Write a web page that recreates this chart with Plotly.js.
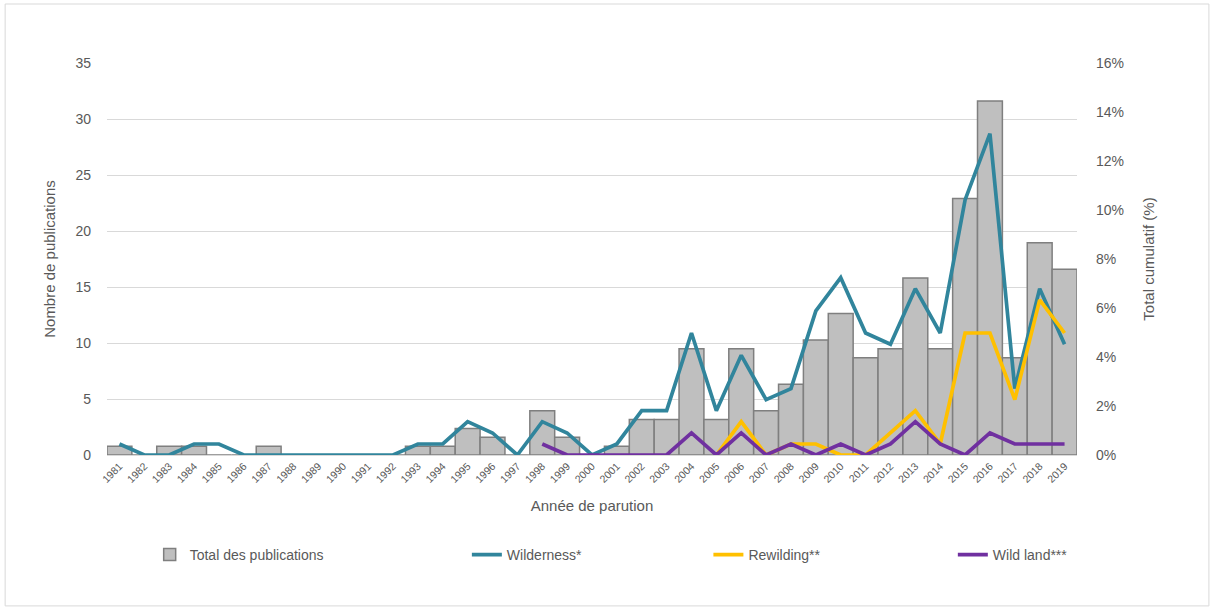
<!DOCTYPE html>
<html>
<head>
<meta charset="utf-8">
<script src="https://cdn.plot.ly/plotly-3.0.1.min.js"></script>
<style>
html,body{margin:0;padding:0;background:#fff;}
#chart{width:1214px;height:612px;}
</style>
</head>
<body>
<div id="chart"></div>
<script>
var years = ["1981","1982","1983","1984","1985","1986","1987","1988","1989","1990","1991","1992","1993","1994","1995","1996","1997","1998","1999","2000","2001","2002","2003","2004","2005","2006","2007","2008","2009","2010","2011","2012","2013","2014","2015","2016","2017","2018","2019"];

var totalPublications = [0.79,0,0.79,0.79,0,0,0.79,0,0,0,0,0,0.79,0.79,2.37,1.58,0,3.95,1.58,0,0.79,3.16,3.16,9.48,3.16,9.48,3.95,6.32,10.27,12.64,8.69,9.48,15.8,9.48,22.91,31.6,8.69,18.96,16.59];

var wilderness = [0.45,0,0,0.45,0.45,0,0,0,0,0,0,0,0.45,0.45,1.36,0.90,0,1.36,0.90,0,0.45,1.81,1.81,4.98,1.81,4.07,2.26,2.71,5.88,7.24,4.98,4.52,6.79,4.98,10.41,13.12,2.71,6.79,4.52];

var rewilding = [null,null,null,null,null,null,null,null,null,null,null,null,null,null,null,null,null,null,null,null,null,null,null,null,0,1.36,0,0.45,0.45,0,0,0.90,1.81,0.45,4.98,4.98,2.26,6.33,4.98];

var wildLand = [null,null,null,null,null,null,null,null,null,null,null,null,null,null,null,null,null,0.45,0,0,0,0,0,0.90,0,0.90,0,0.45,0,0.45,0,0.45,1.36,0.45,0,0.90,0.45,0.45,0.45];

var txt = '#595959';
var fnt = '"Liberation Sans", Arial, sans-serif';

var traces = [
  {type:'bar', name:'Total des publications', x:years, y:totalPublications, yaxis:'y', legend:'legend',
   marker:{color:'#BFBFBF', line:{color:'#7F7F7F', width:1.5}}},
  {type:'scatter', mode:'lines', name:'Wilderness*', x:years, y:wilderness, yaxis:'y2', legend:'legend2',
   line:{color:'#31859C', width:3.7}},
  {type:'scatter', mode:'lines', name:'Rewilding**', x:years, y:rewilding, yaxis:'y2', legend:'legend3',
   line:{color:'#FFC000', width:3.7}},
  {type:'scatter', mode:'lines', name:'Wild land***', x:years, y:wildLand, yaxis:'y2', legend:'legend4',
   line:{color:'#7030A0', width:3.7}}
];

function leg(x){
  return {orientation:'h', x:x, xanchor:'left', y:-0.255, yanchor:'middle',
          font:{size:14, color:txt}, bgcolor:'rgba(0,0,0,0)'};
}

var layout = {
  width:1214, height:612,
  margin:{l:107, r:137, t:63, b:157},
  paper_bgcolor:'#fff', plot_bgcolor:'#fff',
  font:{family:fnt, color:txt, size:13},
  bargap:0,
  showlegend:true,
  xaxis:{type:'category', range:[-0.5,38.5], tickangle:-45, tickfont:{size:10.5, color:txt},
         showgrid:false, showline:true, linecolor:'#D9D9D9', linewidth:1, ticks:'',
         title:{text:'Année de parution', font:{size:15, color:txt}, standoff:16}},
  yaxis:{range:[0,35], dtick:5, showgrid:true, gridcolor:'#D9D9D9', gridwidth:1, zeroline:false,
         showline:false, ticks:'', tickfont:{size:14, color:txt}, ticklabelstandoff:15,
         title:{text:'Nombre de publications', font:{size:15, color:txt}, standoff:16}},
  yaxis2:{overlaying:'y', side:'right', range:[0,16], dtick:2, ticksuffix:'%', showgrid:false,
          zeroline:false, showline:false, ticks:'', tickfont:{size:14, color:txt}, ticklabelstandoff:18,
          title:{text:'Total cumulatif (%)', font:{size:15, color:txt}, standoff:20}},
  legend:leg(0.044),
  legend2:leg(0.371),
  legend3:leg(0.620),
  legend4:leg(0.872),
  shapes:[{type:'rect', xref:'paper', yref:'paper', x0:-0.105, x1:1.136, y0:-0.385, y1:1.1505,
           line:{color:'#D9D9D9', width:1}, layer:'below'}]
};

Plotly.newPlot('chart', traces, layout, {displayModeBar:false, staticPlot:true});
</script>
</body>
</html>
